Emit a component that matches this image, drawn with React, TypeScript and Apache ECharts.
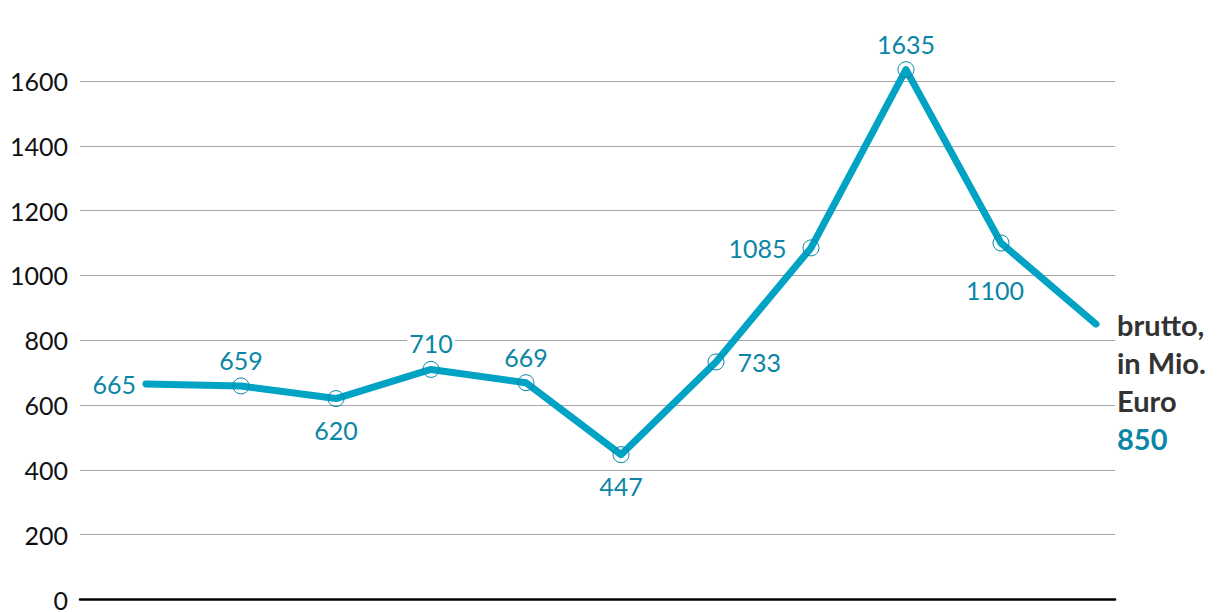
import React, { useEffect, useRef } from "react";
import * as echarts from "echarts";

const values = [665, 659, 620, 710, 669, 447, 733, 1085, 1635, 1100, 850];
const labelPositions = ["left", "top", "bottom", "top", "top", "bottom", "right", "left", "top", "bottom", "right"];
const yTicks = [0, 200, 400, 600, 800, 1000, 1200, 1400, 1600];
const lastLabelLines = ["brutto,", "in Mio.", "Euro"];

const LINE = "#00a3c4";
const LABEL = "#0b86a6";
const FONT = "Lato, 'Noto Sans', sans-serif";

export default function App() {
  const ref = useRef<HTMLDivElement>(null);
  useEffect(() => {
    if (!ref.current) return;
    const chart = echarts.init(ref.current, undefined, { renderer: "svg" });
    const last = values.length - 1;
    const data = values.map((v, i) => {
      const pos = labelPositions[i];
      const hidden = i === 0 || i === last;
      const item: any = {
        value: [i, v],
        itemStyle: hidden ? { borderWidth: 0, borderColor: "rgba(0,0,0,0)" } : undefined,
        label: {
          show: true,
          position: pos,
          distance: i === 0 ? 0 : pos === "left" ? 14 : pos === "right" ? 11 : pos === "top" ? 5 : 10,
        },
      };
      if (i === 9) {
        item.label.offset = [-6, 16];
      }
      if (i === last) {
        item.label = {
          show: true,
          position: "right",
          distance: 13,
          verticalAlign: "top",
          offset: [0, -19],
          backgroundColor: "transparent",
          padding: 0,
          lineHeight: 38,
          formatter: () =>
            lastLabelLines.map((l) => `{a|${l}}`).join("\n") + `\n{b|${v}}`,
          rich: {
            a: { fontFamily: FONT, fontSize: 29, fontWeight: "bold", color: "#333333", lineHeight: 38 },
            b: { fontFamily: FONT, fontSize: 29, fontWeight: "bold", color: LABEL, lineHeight: 38 },
          },
        };
      }
      return item;
    });
    chart.setOption({
      animation: false,
      grid: { left: 80, right: 105, top: 81, bottom: 10, containLabel: false },
      xAxis: {
        type: "value",
        min: -0.6947,
        max: 10.2,
        axisLabel: { show: false },
        axisTick: { show: false },
        splitLine: { show: false },
        axisLine: { show: true, onZero: true, lineStyle: { color: "#000", width: 2.5 } },
      },
      yAxis: {
        type: "value",
        min: yTicks[0],
        max: yTicks[yTicks.length - 1],
        interval: 200,
        axisLine: { show: false },
        axisTick: { show: false },
        axisLabel: {
          color: "#111",
          fontFamily: FONT,
          fontSize: 25,
          margin: 12,
          formatter: (val: number) => String(val),
        },
        splitLine: { lineStyle: { color: "#a6a6a6", width: 1.2 } },
      },
      series: [
        {
          type: "line",
          data,
          clip: false,
          z: 3,
          symbol: "circle",
          symbolSize: 16,
          showAllSymbol: true,
          lineStyle: { color: LINE, width: 7, cap: "round", join: "round" },
          itemStyle: { color: "rgba(0,0,0,0)", borderColor: LABEL, borderWidth: 1 },
          label: {
            color: LABEL,
            fontFamily: FONT,
            fontSize: 25,
            backgroundColor: "#fff",
            padding: [0, 2],
          },
          emphasis: { disabled: true },
        },
      ],
    });
    return () => chart.dispose();
  }, []);
  return <div ref={ref} style={{ width: 1220, height: 612, position: "absolute", left: 0, top: 0 }} />;
}
